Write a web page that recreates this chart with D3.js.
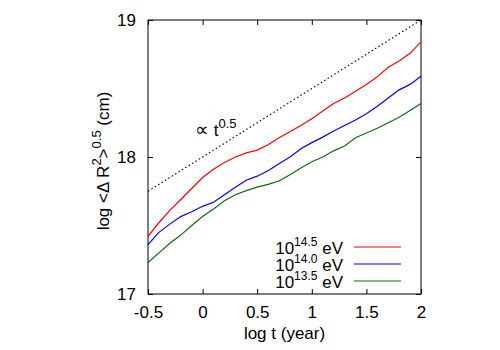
<!DOCTYPE html>
<html>
<head>
<meta charset="utf-8">
<script src="https://cdn.jsdelivr.net/npm/d3@7"></script>
<style>
  body { margin: 0; background: #fff; }
  svg { display: block; }
  text { font-family: "Liberation Sans", Arial, sans-serif; }
</style>
</head>
<body>
<div id="vis"></div>
<script>
///////data/////////////////////////////////////////////////
var logT = [-0.5,-0.4,-0.3,-0.2,-0.1,0.0,0.1,0.2,0.3,0.4,0.5,0.6,0.7,0.8,0.9,1.0,1.1,1.2,1.3,1.4,1.5,1.6,1.7,1.8,1.9,2.0]
var r145 = [17.42,17.52,17.61,17.69,17.77,17.85,17.91,17.96,18.00,18.03,18.05,18.09,18.14,18.185,18.23,18.28,18.335,18.39,18.43,18.48,18.53,18.585,18.655,18.70,18.757,18.84]
var r140 = [17.36,17.45,17.51,17.565,17.60,17.64,17.67,17.725,17.78,17.83,17.86,17.90,17.95,18.00,18.06,18.105,18.145,18.19,18.23,18.27,18.315,18.37,18.43,18.49,18.53,18.59]
var r135 = [17.23,17.30,17.37,17.43,17.50,17.565,17.62,17.68,17.725,17.755,17.78,17.80,17.825,17.87,17.92,17.965,18.00,18.045,18.08,18.14,18.175,18.21,18.25,18.29,18.34,18.39]
var seriesExp = ["14.5", "14.0", "13.5"]
var seriesColor = ["#ff0000", "#0000ff", "#136613"]
var xTicks = [-0.5, 0, 0.5, 1, 1.5, 2]
var yTicks = [17, 18, 19]
// reference slope line  ~ t^0.5
var refX = [-0.5, 2]
var refY = [17.75, 19.0]

///////setting up/////////////////////////////////////////////////
var width = 500
var height = 350
var margin = {left: 148, right: 79, top: 20, bottom: 56}
var fs = 17

const svg = d3.select("#vis")
  .append("svg")
  .attr("width", width)
  .attr("height", height)

var x = d3.scaleLinear().domain([-0.5, 2]).range([margin.left, width - margin.right])
var y = d3.scaleLinear().domain([17, 19]).range([height - margin.bottom, margin.top])

////////axes (ticks point inward, mirrored)/////////////////////////
function styleAxis(g) {
  g.select(".domain").remove()
  g.selectAll("line").attr("stroke", "#000")
  g.selectAll("text").attr("font-size", fs).attr("fill", "#000")
}

svg.append("g")
  .attr("transform", "translate(0," + y(17) + ")")
  .call(d3.axisBottom(x).tickValues(xTicks).tickSizeInner(-5).tickPadding(12).tickFormat(d => String(d)))
  .call(styleAxis)

svg.append("g")
  .attr("transform", "translate(0," + y(19) + ")")
  .call(d3.axisTop(x).tickValues(xTicks).tickSizeInner(-5).tickFormat(""))
  .call(styleAxis)

svg.append("g")
  .attr("transform", "translate(" + x(-0.5) + ",0)")
  .call(d3.axisLeft(y).tickValues(yTicks).tickSizeInner(-5).tickPadding(12).tickFormat(d => String(d)))
  .call(styleAxis)

svg.append("g")
  .attr("transform", "translate(" + x(2) + ",0)")
  .call(d3.axisRight(y).tickValues(yTicks).tickSizeInner(-5).tickFormat(""))
  .call(styleAxis)

// frame
svg.append("rect")
  .attr("x", x(-0.5)).attr("y", y(19))
  .attr("width", x(2) - x(-0.5)).attr("height", y(17) - y(19))
  .attr("fill", "none").attr("stroke", "#000").attr("stroke-width", 1)

////////curves//////////////////////////////////////////////////
var line = d3.line().x(d => x(d[0])).y(d => y(d[1]))
var allSeries = [r145, r140, r135]

svg.append("path")
  .datum(d3.zip(refX, refY))
  .attr("d", line)
  .attr("fill", "none")
  .attr("stroke", "#000")
  .attr("stroke-width", 1.1)
  .attr("stroke-dasharray", "1.5,2.5")

allSeries.forEach(function(s, i) {
  svg.append("path")
    .datum(d3.zip(logT, s))
    .attr("d", line)
    .attr("fill", "none")
    .attr("stroke", seriesColor[i])
    .attr("stroke-width", 1.2)
})

// slope label
var lab = svg.append("text")
  .attr("x", 195).attr("y", 136)
  .attr("font-size", fs)
lab.append("tspan").attr("font-size", 19).text("\u221D")
lab.append("tspan").text(" t")
lab.append("tspan").attr("dy", -8).attr("font-size", 13).text("0.5")

////////legend//////////////////////////////////////////////////
var leg = svg.append("g")
seriesExp.forEach(function(e, i) {
  var yy = 247 + i * 17
  var t = leg.append("text")
    .attr("x", 343).attr("y", yy + 7)
    .attr("text-anchor", "end")
    .attr("font-size", fs)
  t.append("tspan").text("10")
  t.append("tspan").attr("dy", -8).attr("font-size", 12).text(e)
  t.append("tspan").attr("dy", 8).text(" eV")
  leg.append("line")
    .attr("x1", 354).attr("x2", 401)
    .attr("y1", yy).attr("y2", yy)
    .attr("stroke", seriesColor[i])
    .attr("stroke-width", 1.2)
})

////////axis titles////////////////////////////////////////////
svg.append("text")
  .attr("x", x(0.75)).attr("y", 339)
  .attr("text-anchor", "middle")
  .attr("font-size", fs)
  .text("log t (year)")

var yl = svg.append("text")
  .attr("transform", "translate(109," + 161 + ") rotate(-90)")
  .attr("text-anchor", "middle")
  .attr("font-size", fs)
yl.append("tspan").text("log <\u0394 R")
yl.append("tspan").attr("dy", -8).attr("font-size", 13).text("2")
yl.append("tspan").attr("dy", 8).text(">")
yl.append("tspan").attr("dy", -8).attr("font-size", 13).text("0.5")
yl.append("tspan").attr("dy", 8).text(" (cm)")
</script>
</body>
</html>
